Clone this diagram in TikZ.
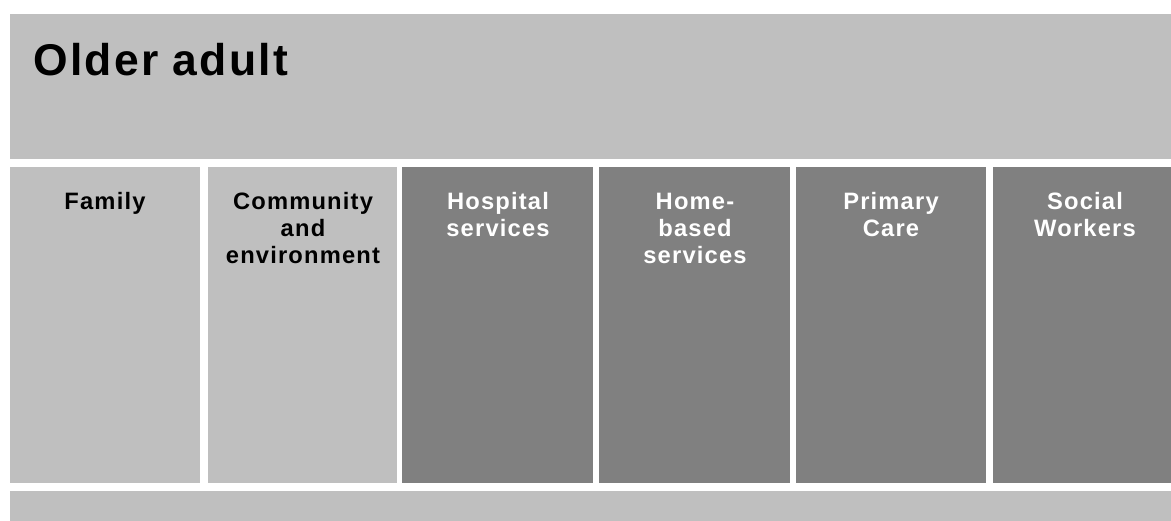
\documentclass[tikz,border=0pt]{standalone}
\usepackage{fontspec}
\setmainfont{Liberation Sans}
\newfontfamily\spacedsans[LetterSpace=5]{Liberation Sans}
\usepackage{tikz}
\definecolor{silverband}{RGB}{191, 191, 191}
\definecolor{slateband}{RGB}{128, 128, 128}
\tikzset{
    headtext/.style={anchor=base west, inner sep=0pt, font=\spacedsans\bfseries\fontsize{25.3}{30}\selectfont},
    coltext/.style={anchor=north, inner sep=0pt, align=center, font=\spacedsans\bfseries\fontsize{13.5}{15.3}\selectfont},
    lighttext/.style={coltext, text=black},
    darktext/.style={coltext, text=white}
}

\begin{document}
\begin{tikzpicture}[x=0.02cm, y=-0.02cm]
            \useasboundingbox                     (0, 0) rectangle (1171, 521);
            % top band
            \fill[silverband]                     (10, 14) rectangle (1171, 159);
            \node[headtext] (older) at (33, 75) {Older adult};
            % columns
            \fill[silverband]                     ( 10, 167) rectangle ( 200, 483);
            \fill[silverband]                     (208, 167) rectangle ( 397, 483);
            \fill[slateband]                      (402, 167) rectangle ( 593, 483);
            \fill[slateband]                      (599, 167) rectangle ( 790, 483);
            \fill[slateband]                      (796, 167) rectangle ( 986, 483);
            \fill[slateband]                      (993, 167) rectangle (1171, 483);
            \node[lighttext] (family)    at ( 105, 192) {Family};
            \node[lighttext] (community) at ( 303, 192) {Community\\and\\environment};
            \node[darktext]  (hospital)  at ( 498, 192) {Hospital\\services};
            \node[darktext]  (homebased) at ( 695, 192) {\vphantom{l}Home-\\based\\services};
            \node[darktext]  (primary)   at ( 891, 192) {Primary\\Care};
            \node[darktext]  (social)    at (1085, 192) {Social\\Workers};
            % bottom band
            \fill[silverband]                     (10, 491) rectangle (1171, 521);
\end{tikzpicture}
\end{document}
